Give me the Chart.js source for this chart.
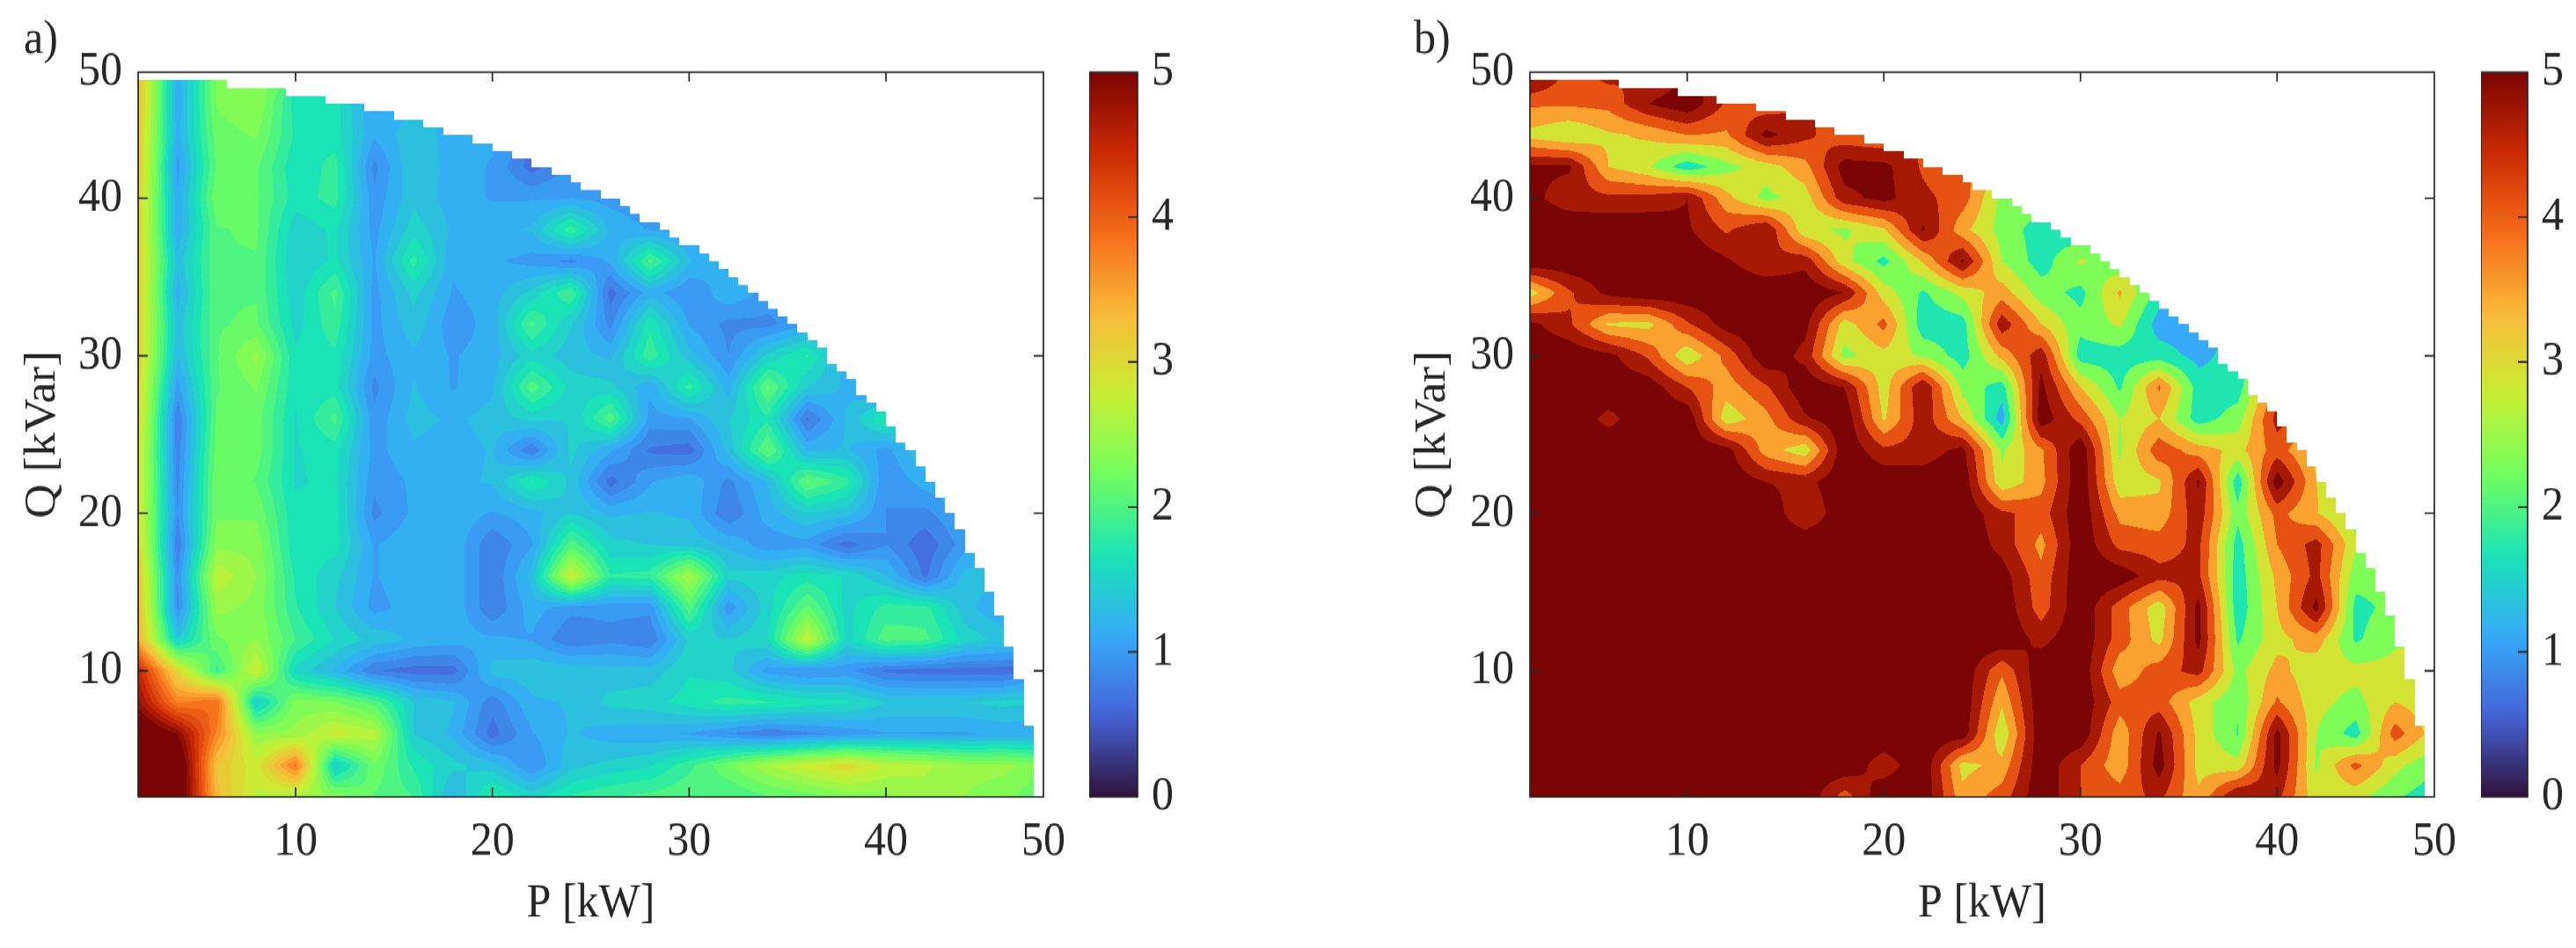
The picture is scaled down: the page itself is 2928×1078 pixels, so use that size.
<!DOCTYPE html>
<html>
<head>
  <title>P-Q maps</title>
  <script src="https://cdn.jsdelivr.net/npm/chart.js"></script>
  <style>
    html, body { margin: 0; padding: 0; background: #fff; }
    body { width: 2928px; height: 1078px; position: relative; overflow: hidden; }
    /* the reference figure is stretched vertically, text included */
    #figure { position: absolute; left: 0; top: 0; width: 2928px; height: 998px; transform: scaleY(1.08); transform-origin: 0 0; }
    canvas { position: absolute; top: 0; }
  </style>
</head>
<body>
  <div id="figure">
    <canvas id="chartA" width="1238" height="998" style="left:0"></canvas>
    <canvas id="barA" width="200" height="998" style="left:1238px"></canvas>
    <canvas id="chartB" width="1240" height="998" style="left:1580px"></canvas>
    <canvas id="barB" width="108" height="998" style="left:2820px"></canvas>
  </div>
  <script>
    // grid nodes of both maps, rows of the value tables run from Q = 48 down to Q = 2
    const pValues = [2,4,6,8,10,12,14,16,18,20,22,24,26,28,30,32,34,36,38,40,42,44,46,48];
    const qValues = [48,46,44,42,40,38,36,34,32,30,28,26,24,22,20,18,16,14,12,10,8,6,4,2];

    const tickValues = [10,20,30,40,48];
    const tickLabels = ['10','20','30','40','50'];
    const barTicks = [0,1,2,3,4,5];

    const valuesA = [
      [3.4,1.2,2.35,2.4],
      [3.4,1.2,2.35,2.5,1.75,1.75,1.15],
      [3.3,1.25,2.25,2.35,1.8,1.75,1.2,1.45,1.25,1.2],
      [3.3,1.1,2.2,2.2,1.7,1.9,0.95,1.5,1.25,1.15,0.75,1.05],
      [3.2,1.2,2.3,2.2,1.75,1.9,1.05,1.45,1.25,1.15,1.15,1.15,1.1,1.05],
      [3.2,1.2,2.15,2.2,1.55,1.7,1.1,1.6,1.3,1.3,1.35,1.95,1.3,1.15,1.1],
      [3.2,1.4,2.15,2.15,1.5,1.7,1.15,1.9,1.2,1.2,1.1,0.95,1.2,2.05,1.35,1.1],
      [3.2,1.25,2.15,2.15,1.55,2.05,1.1,1.55,1.15,1.25,1.55,2.0,0.75,1.25,1.0,1.3,1.1],
      [3.2,1.4,2.15,2.2,1.6,1.95,1.1,1.45,1.05,1.25,2.05,1.5,0.95,1.8,1.15,0.95,0.95,1.15],
      [3.2,1.35,2.15,2.55,1.7,1.8,1.1,1.3,1.15,1.25,1.6,1.4,1.3,1.95,1.4,1.0,1.55,1.85,1.2],
      [3.1,1.1,2.15,2.35,1.7,1.75,0.95,1.35,1.15,1.3,2.1,1.6,1.55,1.2,1.9,1.25,2.2,1.5,1.3,1.05],
      [3.1,0.85,2.2,2.25,1.65,2.05,1.05,1.4,1.3,1.4,1.55,1.5,2.1,1.1,1.15,1.5,1.8,0.8,1.35,1.85,1.5],
      [3.0,0.9,2.25,2.25,1.65,1.75,1.1,1.3,1.25,1.35,0.85,1.55,1.2,0.8,0.75,1.4,2.2,1.3,1.35,1.1,1.5],
      [3.0,0.95,2.3,2.15,1.65,1.7,1.05,1.2,1.3,1.35,1.85,1.45,0.75,1.15,1.3,0.95,1.35,2.2,1.9,1.0,1.25,1.4],
      [3.0,1.0,2.3,2.3,1.7,1.75,0.95,1.2,1.3,1.15,1.25,1.5,1.3,1.35,1.3,0.85,1.25,1.5,1.4,1.0,0.95,1.2],
      [3.1,0.85,2.45,2.45,1.7,1.75,1.15,1.3,1.3,0.85,1.15,2.1,1.55,1.5,1.45,1.3,1.05,1.1,0.75,1.0,0.7,1.1,1.3],
      [3.3,1.0,2.8,2.5,1.8,1.55,1.15,1.3,1.3,0.85,1.4,2.9,1.85,1.9,2.65,1.55,1.6,1.75,1.65,1.35,0.8,1.4,1.4],
      [3.4,0.95,2.55,2.45,1.85,1.5,1.1,1.25,1.3,0.85,1.25,1.05,1.05,1.05,2.1,1.05,1.6,2.2,1.6,1.9,1.9,1.4,1.15],
      [3.5,1.5,2.3,2.5,2.0,1.65,1.45,1.3,1.25,1.2,1.15,0.85,0.95,0.85,1.55,1.5,1.65,2.85,1.6,2.1,2.05,1.6,1.45],
      [4.6,3.1,1.95,2.9,1.6,1.3,0.85,0.75,0.75,1.4,1.45,1.45,1.4,1.4,1.65,1.55,1.1,1.0,1.05,0.8,0.75,0.75,0.75],
      [4.9,3.8,4.0,1.5,2.4,2.35,2.1,1.5,1.35,0.9,1.3,1.35,1.55,1.6,1.75,1.9,1.85,1.75,1.7,1.5,1.5,1.5,1.55,1.5],
      [5.5,5.0,3.8,2.5,2.55,2.9,2.75,1.5,1.3,0.75,1.15,1.35,1.25,1.2,1.15,1.0,0.85,0.95,1.05,1.15,1.15,1.15,1.2,1.2],
      [5.5,5.5,3.3,2.9,3.9,1.5,2.3,1.8,1.55,1.4,1.0,1.45,1.55,1.65,1.95,2.3,2.65,2.9,3.1,2.8,2.7,2.55,2.55,2.4],
      [5.0,5.5,3.4,2.8,2.65,2.45,2.15,2.0,1.3,1.9,1.6,1.85,2.0,2.05,2.15,2.0,2.15,2.25,2.4,2.45,2.6,2.5,2.4,2.15]
    ];

    const valuesB = [
      [5.8,4.5,4.95,4.4],
      [4.2,4.2,4.3,5.3,5.8,4.6,4.3],
      [3.3,2.9,3.4,3.6,4.1,4.0,5.5,4.85,4.3,4.1],
      [5.4,5.4,3.5,3.0,1.9,2.7,3.2,3.9,5.6,5.5,4.6,4.2],
      [5.5,4.95,4.85,4.9,5.3,3.7,2.7,3.2,5.1,5.5,4.85,4.4,2.7,2.6],
      [5.8,5.8,5.8,5.8,5.4,4.6,5.3,3.0,2.8,3.4,5.4,3.7,2.65,2.0,1.8],
      [5.8,5.8,5.8,5.8,5.8,5.4,4.8,5.1,3.1,2.1,3.55,5.4,2.9,2.0,3.0,2.4],
      [3.2,4.6,5.5,5.8,5.8,5.8,5.8,5.8,5.3,3.2,2.2,3.1,3.8,2.6,2.1,3.6,2.0],
      [5.5,4.8,3.4,3.3,4.6,5.6,5.8,5.5,3.2,4.3,1.9,2.0,5.1,3.5,2.5,3.0,1.4,1.4],
      [5.8,5.8,5.5,4.6,3.0,4.3,5.8,5.1,2.7,3.3,2.8,2.0,3.7,5.1,2.0,2.0,2.0,1.5,2.0],
      [5.8,5.8,5.8,5.7,4.7,3.8,4.6,5.8,5.3,3.2,5.3,2.7,2.0,5.5,3.5,2.2,4.2,2.0,2.0,4.3],
      [5.8,5.8,5.1,5.8,5.8,3.1,3.9,5.2,5.8,3.4,5.1,3.5,1.4,5.7,4.5,2.9,3.5,2.0,2.6,4.95,4.3],
      [5.8,5.8,5.8,5.8,5.8,5.6,3.8,3.1,5.8,4.85,4.95,5.5,2.8,4.0,5.8,2.8,4.5,3.8,3.3,4.4,3.3],
      [5.8,5.8,5.8,5.8,5.8,5.8,5.3,5.1,5.8,5.8,5.7,5.8,3.0,3.9,5.8,3.1,3.4,5.4,1.9,5.7,3.5,3.0],
      [5.8,5.8,5.8,5.8,5.8,5.8,5.8,4.75,5.8,5.8,5.8,5.8,4.85,4.4,5.8,3.9,3.7,5.1,2.5,4.3,3.55,2.6],
      [5.8,5.8,5.8,5.8,5.8,5.8,5.8,5.8,5.8,5.8,5.8,5.8,5.1,3.9,5.8,4.5,4.4,4.85,2.0,4.1,4.95,3.0,2.4],
      [5.8,5.8,5.8,5.8,5.8,5.8,5.8,5.8,5.8,5.8,5.8,5.8,5.6,4.3,5.8,5.7,4.9,4.85,1.95,3.65,4.9,2.55,2.5],
      [5.8,5.8,5.8,5.8,5.8,5.8,5.8,5.8,5.8,5.8,5.8,5.8,5.8,4.4,5.8,4.4,3.1,5.5,1.9,3.5,5.5,2.1,2.5],
      [5.8,5.8,5.8,5.8,5.8,5.8,5.8,5.8,5.8,5.8,5.8,5.8,5.8,5.1,5.8,4.4,3.3,5.5,2.2,3.3,3.8,2.2,2.8,3.0],
      [5.8,5.8,5.8,5.8,5.8,5.8,5.8,5.8,5.8,5.8,5.8,5.8,4.2,5.8,5.8,3.7,4.4,4.95,2.7,3.7,3.1,3.1,3.1,3.0],
      [5.8,5.8,5.8,5.8,5.8,5.8,5.8,5.8,5.8,5.8,5.8,5.8,3.6,5.8,5.8,4.4,4.4,3.2,2.4,4.2,3.1,2.7,3.5,3.1],
      [5.8,5.8,5.8,5.8,5.8,5.8,5.8,5.8,5.8,5.8,5.8,5.7,3.0,5.8,5.8,3.7,5.4,3.3,2.25,5.5,2.9,2.0,4.4,3.2],
      [5.8,5.8,5.8,5.8,5.8,5.8,5.8,5.8,5.8,4.95,5.8,3.3,3.7,5.8,4.7,3.7,5.6,3.3,3.1,5.5,2.8,4.3,3.1,2.4],
      [5.8,5.8,5.8,5.8,5.8,5.8,5.8,5.8,4.4,5.8,5.8,3.7,4.4,5.8,4.7,4.4,4.85,3.6,5.4,4.9,3.1,3.1,2.4,1.9]
    ];

    // contour levels: fine ones on a), coarse ones on b)
    const levelsA = [];
    for (let i = 0; i <= 30; i++) levelsA.push(i / 6);
    const levelsB = [0.5,1.1,1.7,2.3,2.9,3.5,4.1,4.7,5.3];

    const maxRadius = 48;   // outside this the maps are empty
    const maxNode = 47.5;
    const serif = '"Liberation Serif", "Times New Roman", serif';
    const ink = '#262626';
    const fontSize = 50;
    const areaTop = 76, xAxisHeight = 159;

    const turboStops = ['#30123b','#4662d7','#36aaf9','#1ae4b6','#72fe5e','#c8ef34','#faba39','#f66b19','#cb2a04','#7a0403'];
    const turboRgb = turboStops.map(c => [1, 3, 5].map(k => parseInt(c.slice(k, k + 2), 16)));

    function turbo(t) {
      const f = Math.min(Math.max(t, 0), 1) * (turboRgb.length - 1);
      const i = Math.min(Math.floor(f), turboRgb.length - 2);
      return turboRgb[i].map((c, k) => Math.round(c + (turboRgb[i + 1][k] - c) * (f - i)));
    }

    function toPoints(values) {
      const pts = [];
      values.forEach((row, j) => row.forEach((v, i) => pts.push({ x: pValues[i], y: qValues[j], v: v })));
      return pts;
    }

    // value at (p, q) from the four surrounding nodes, missing nodes are left out
    function sample(table, p, q) {
      const i = Math.min(Math.floor((p - 2) / 2), pValues.length - 2);
      const j = Math.min(Math.floor((48 - q) / 2), qValues.length - 2);
      const fx = (p - pValues[i]) / 2;
      const fy = (qValues[j] - q) / 2;
      const corners = [[j, i, (1 - fx) * (1 - fy)], [j, i + 1, fx * (1 - fy)], [j + 1, i, (1 - fx) * fy], [j + 1, i + 1, fx * fy]];
      let sum = 0, w = 0;
      for (const [a, b, k] of corners) {
        const v = table[a][b];
        if (v != null) { sum += v * k; w += k; }
      }
      return w > 0 ? sum / w : null;
    }

    // filled contour bands, one pixel at a time through the chart's scales
    const contourPlugin = {
      id: 'contour',
      beforeDatasetsDraw(chart, args, opts) {
        const area = chart.chartArea;
        const xs = chart.scales.x, ys = chart.scales.y;
        const left = Math.round(area.left), top = Math.round(area.top);
        const w = Math.round(area.right) - left, h = Math.round(area.bottom) - top;
        const table = qValues.map(() => pValues.map(() => null));
        chart.data.datasets[0].data.forEach(d => {
          table[qValues.indexOf(d.y)][pValues.indexOf(d.x)] = d.v;
        });
        const img = chart.ctx.createImageData(w, h);
        const colors = opts.levels.map(l => turbo(l / 5));
        for (let py = 0; py < h; py++) {
          const q = ys.getValueForPixel(top + py + 0.5);
          const qs = Math.ceil(q * 2) / 2;
          for (let px = 0; px < w; px++) {
            const p = xs.getValueForPixel(left + px + 0.5);
            const ps = Math.ceil(p * 2) / 2;
            if (ps > maxNode || qs > maxNode || ps * ps + qs * qs > maxRadius * maxRadius) continue;
            const v = sample(table, p, q);
            if (v == null) continue;
            let b = 0;
            while (b < opts.levels.length - 1 && v >= opts.levels[b + 1]) b++;
            const o = (py * w + px) * 4;
            img.data[o] = colors[b][0];
            img.data[o + 1] = colors[b][1];
            img.data[o + 2] = colors[b][2];
            img.data[o + 3] = 255;
          }
        }
        chart.ctx.putImageData(img, left, top);
      }
    };

    // MATLAB style box with inward ticks, plus the a) / b) label
    const framePlugin = {
      id: 'frame',
      afterDraw(chart, args, opts) {
        const { ctx, chartArea: a, scales } = chart;
        ctx.save();
        ctx.strokeStyle = ink;
        ctx.lineWidth = 1.7;
        ctx.strokeRect(a.left, a.top, a.right - a.left, a.bottom - a.top);
        ctx.beginPath();
        (opts.xTicks || []).forEach(v => {
          const x = scales.x.getPixelForValue(v);
          ctx.moveTo(x, a.bottom); ctx.lineTo(x, a.bottom - 10);
          ctx.moveTo(x, a.top); ctx.lineTo(x, a.top + 10);
        });
        (opts.yTicks || []).forEach(v => {
          const y = scales.y.getPixelForValue(v);
          if (!opts.rightOnly) { ctx.moveTo(a.left, y); ctx.lineTo(a.left + 11, y); }
          ctx.moveTo(a.right, y); ctx.lineTo(a.right - 11, y);
        });
        ctx.stroke();
        if (opts.tag) {
          ctx.fillStyle = ink;
          ctx.font = fontSize + 'px ' + serif;
          ctx.textBaseline = 'alphabetic';
          ctx.fillText(opts.tag, 27, 56);
        }
        ctx.restore();
      }
    };

    function drawMap(id, values, levels, tag, areaLeft, areaRight) {
      const inner = tickValues.slice(0, 4);
      const axis = (title, extra) => Object.assign({
        type: 'linear', min: 2, max: 48,
        grid: { display: false, drawTicks: false },
        border: { display: false },
        afterBuildTicks: s => { s.ticks = tickValues.map(v => ({ value: v })); },
        ticks: {
          autoSkip: false, maxRotation: 0, color: ink,
          font: { family: serif, size: fontSize },
          callback: v => tickLabels[tickValues.indexOf(v)]
        },
        title: { display: true, text: title, color: ink, font: { family: serif, size: fontSize } }
      }, extra);
      const x = axis('P [kW]', { afterFit: s => { s.height = xAxisHeight; } });
      x.ticks.padding = 18;
      x.title.padding = { top: 0, bottom: 16 };
      const y = axis('Q [kVar]', { afterFit: s => { s.width = areaLeft; } });
      y.ticks.padding = 18;
      y.title.padding = { top: 19, bottom: 0 };
      new Chart(document.getElementById(id), {
        type: 'scatter',
        data: { datasets: [{ data: toPoints(values), pointRadius: 0 }] },
        options: {
          responsive: false, animation: false, devicePixelRatio: 1,
          layout: { autoPadding: false, padding: { top: areaTop, right: document.getElementById(id).width - areaRight, left: 0, bottom: 0 } },
          scales: { x: x, y: y },
          plugins: {
            legend: { display: false }, tooltip: { enabled: false },
            contour: { levels: levels },
            frame: { xTicks: inner, yTicks: inner, tag: tag }
          }
        },
        plugins: [contourPlugin, framePlugin]
      });
    }

    function drawColorbar(id, barWidth) {
      const canvas = document.getElementById(id);
      new Chart(canvas, {
        type: 'bar',
        data: {
          labels: [''],
          datasets: [{
            data: [[0, 5]],
            barPercentage: 1, categoryPercentage: 1,
            backgroundColor(c) {
              const a = c.chart.chartArea;
              if (!a) return '#fff';
              const g = c.chart.ctx.createLinearGradient(0, a.bottom, 0, a.top);
              for (let i = 0; i <= 50; i++) {
                const rgb = turbo(i / 50);
                g.addColorStop(i / 50, 'rgb(' + rgb.join(',') + ')');
              }
              return g;
            }
          }]
        },
        options: {
          responsive: false, animation: false, devicePixelRatio: 1,
          layout: { autoPadding: false, padding: { top: areaTop, left: 0, right: 0, bottom: xAxisHeight } },
          scales: {
            x: { display: false },
            y: {
              position: 'right', min: 0, max: 5,
              grid: { display: false, drawTicks: false }, border: { display: false },
              afterBuildTicks: s => { s.ticks = barTicks.map(v => ({ value: v })); },
              afterFit: s => { s.width = canvas.width - barWidth; },
              ticks: { color: ink, padding: 16, font: { family: serif, size: fontSize } }
            }
          },
          plugins: {
            legend: { display: false }, tooltip: { enabled: false },
            frame: { yTicks: barTicks.slice(1, 5), rightOnly: true }
          }
        },
        plugins: [framePlugin]
      });
    }

    drawMap('chartA', valuesA, levelsA, 'a)', 157, 1186);
    drawMap('chartB', valuesB, levelsB, 'b)', 159, 1187);
    drawColorbar('barA', 55);
    drawColorbar('barB', 53);
  </script>
</body>
</html>
